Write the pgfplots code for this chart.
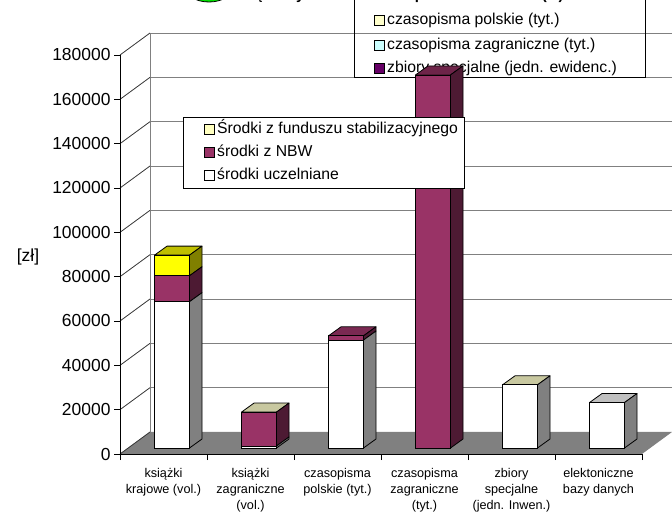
\documentclass[border=0pt]{standalone}
\usepackage{pgfplots}
\usepackage{pgfplotstable}
\pgfplotsset{compat=1.18}
\usepackage{fontspec}
\setmainfont{Liberation Sans}

\definecolor{maroon}{HTML}{993366}
\definecolor{maroonside}{HTML}{4D1A33}
\definecolor{ylw}{HTML}{FFFF00}
\definecolor{ylwside}{HTML}{808000}
\definecolor{ylwpale}{HTML}{FFFFC0}
\definecolor{whiteside}{HTML}{808080}
\definecolor{floorgray}{HTML}{808080}
\definecolor{wallgray}{HTML}{808080}
\definecolor{topA}{HTML}{BFBF00}
\definecolor{topB}{HTML}{C8C8A0}
\definecolor{topC}{HTML}{7A2952}
\definecolor{topD}{HTML}{6E2449}
\definecolor{topE}{HTML}{C8C8A0}
\definecolor{topF}{HTML}{C0C0C0}
\definecolor{lgA}{HTML}{FFFFCC}
\definecolor{lgB}{HTML}{CCFFFF}
\definecolor{lgC}{HTML}{660066}
\definecolor{titlegreen}{HTML}{00E000}

\pgfplotstableread{
x  ucz    nbw    fund   top
1  66000  11700  9300   topA
2  900    15300  0      topB
3  48700  1900   0      topC
4  0      168300 0      topD
5  28500  0      0      topE
6  20500  0      0      topF
}\bardata

\newcommand\sideface[4]{\filldraw[fill=#4,draw=black,line width=0.8bp,line join=round]
  ([xshift=17.5bp]axis cs:#1,#2) -- ([shift={(30bp,9bp)}]axis cs:#1,#2) --
  ([shift={(30bp,9bp)}]axis cs:#1,#3) -- ([xshift=17.5bp]axis cs:#1,#3) -- cycle;}
\newcommand\topface[3]{\filldraw[fill=#3,draw=black,line width=0.8bp,line join=round]
  ([xshift=-17.5bp]axis cs:#1,#2) -- ([xshift=17.5bp]axis cs:#1,#2) --
  ([shift={(30bp,9bp)}]axis cs:#1,#2) -- ([shift={(-5bp,9bp)}]axis cs:#1,#2) -- cycle;}

\begin{document}
\begin{tikzpicture}
% ---------- walls, floor, axes ----------
\begin{axis}[
  at={(120bp,58bp)}, anchor=south west, scale only axis,
  width=522bp, height=399bp,
  xmin=0.5, xmax=6.5, ymin=0, ymax=180000,
  clip=false, axis on top,
  axis x line*=bottom, axis y line*=left,
  axis line style={black, line width=0.8bp},
  tick style={black, line width=0.8bp},
  tick align=outside, major tick length=6bp,
  ytick={0,20000,40000,60000,80000,100000,120000,140000,160000,180000},
  scaled y ticks=false,
  /pgf/number format/fixed,
  /pgf/number format/1000 sep={},
  /pgf/number format/assume math mode=true,
  yticklabel style={font=\fontsize{17.5}{17.5}\selectfont},
  xtick={0.5,1.5,2.5,3.5,4.5,5.5,6.5}, xticklabels={},
  xticklabel style={align=center, font=\fontsize{12.7}{16}\selectfont},
  extra x ticks={1,2,3,4,5,6},
  extra x tick style={major tick length=0pt, xticklabel style={yshift=-11bp}},
  extra x tick labels={{książki\\krajowe (vol.)},{książki\\zagraniczne\\(vol.)},{czasopisma\\polskie (tyt.)},{czasopisma\\zagraniczne\\(tyt.)},{zbiory\\specjalne\\(jedn. Inwen.)},{elektoniczne\\bazy danych}},
]
\fill[floorgray] (axis cs:0.5,0) -- (axis cs:6.5,0) -- ([shift={(30bp,22bp)}]axis cs:6.5,0) -- ([shift={(30bp,22bp)}]axis cs:0.5,0) -- cycle;
\pgfplotsinvokeforeach{20000,40000,60000,80000,100000,120000,140000,160000,180000}{
  \draw[wallgray, line width=0.8bp] ([shift={(30bp,22bp)}]axis cs:0.5,#1) -- ([shift={(30bp,22bp)}]axis cs:6.5,#1);
}
\draw[wallgray, line width=0.8bp] ([shift={(30bp,22bp)}]axis cs:0.5,0) -- ([shift={(30bp,22bp)}]axis cs:0.5,180000);
\pgfplotsinvokeforeach{0,20000,40000,60000,80000,100000,120000,140000,160000,180000}{
  \draw[black!80, line width=0.8bp] (axis cs:0.5,#1) -- ([shift={(30bp,22bp)}]axis cs:0.5,#1);
}
\end{axis}

% ---------- y label, title, top legend ----------
\node[font=\fontsize{17.5}{17.5}\selectfont] at (28bp,255bp) {[zł]};
\filldraw[fill=titlegreen, draw=black, line width=0.8bp] (209bp,525bp) ellipse [x radius=24bp, y radius=15bp];
\node[anchor=base west, font=\bfseries\fontsize{15}{18}\selectfont, inner sep=0pt] at (237bp,512bp) {Część wydatków na zakup zbiorów w 2002 (zł)};
\draw[black, line width=0.8bp] (354bp,520bp) -- (354bp,434.5bp) -- (645bp,434.5bp) -- (645bp,520bp);
\foreach \yy/\cc/\lbl in {492/lgA/czasopisma polskie (tyt.), 467/lgB/czasopisma zagraniczne (tyt.), 443.5/lgC/zbiory specjalne (jedn. ewidenc.)}{
  \filldraw[fill=\cc, draw=black, line width=0.8bp] (374bp,\yy bp-5bp) rectangle (384bp,\yy bp+5bp);
  \node[anchor=west, inner sep=0pt, font=\fontsize{15.8}{18}\selectfont] at (387bp,\yy bp) {\lbl};
}

% ---------- bars ----------
\begin{axis}[
  at={(128.5bp,64bp)}, anchor=south west, scale only axis,
  width=522bp, height=399bp,
  xmin=0.5, xmax=6.5, ymin=0, ymax=180000,
  clip=false, hide axis,
  ybar stacked, bar width=35bp,
  legend image code/.code={\path (0bp,0bp); \draw[#1, draw=black, line width=0.8bp] (15bp,-5bp) rectangle (25bp,5bp);},
  reverse legend, legend cell align=left,
  legend style={at={(0.1044,0.8296)}, anchor=north west, draw=black, line width=0.8bp, fill=white,
    font=\fontsize{15.8}{18}\selectfont, inner xsep=6bp, inner ysep=4bp, row sep=6bp,
    nodes={inner sep=1bp, text height=11.5bp, text depth=3.5bp},
    /tikz/every odd column/.style={column sep=1bp}},
]
\addplot[fill=white, draw=black, line width=0.8bp] table[x=x, y=ucz] {\bardata};
\addplot[fill=maroon, draw=black, line width=0.8bp] table[x=x, y=nbw] {\bardata};
\addplot[fill=ylw, draw=black, line width=0.8bp, legend image post style={fill=ylwpale}] table[x=x, y=fund] {\bardata};
\legend{środki uczelniane, środki z NBW, Środki z funduszu stabilizacyjnego}
\pgfplotsinvokeforeach{0,1,2,3,4,5}{
  \pgfplotstablegetelem{#1}{x}\of\bardata \edef\bx{\pgfplotsretval}
  \pgfplotstablegetelem{#1}{ucz}\of\bardata \edef\va{\pgfplotsretval}
  \pgfplotstablegetelem{#1}{nbw}\of\bardata \edef\vb{\pgfplotsretval}
  \pgfplotstablegetelem{#1}{fund}\of\bardata \edef\vc{\pgfplotsretval}
  \pgfplotstablegetelem{#1}{top}\of\bardata \edef\tc{\pgfplotsretval}
  \edef\ya{\the\numexpr\va\relax}
  \edef\yb{\the\numexpr\va+\vb\relax}
  \edef\yc{\the\numexpr\va+\vb+\vc\relax}
  \ifnum\va>0 \edef\tmp{\noexpand\sideface{\bx}{0}{\ya}{whiteside}}\tmp\fi
  \ifnum\vb>0 \edef\tmp{\noexpand\sideface{\bx}{\ya}{\yb}{maroonside}}\tmp\fi
  \ifnum\vc>0 \edef\tmp{\noexpand\sideface{\bx}{\yb}{\yc}{ylwside}}\tmp\fi
  \edef\tmp{\noexpand\topface{\bx}{\yc}{\tc}}\tmp
}
\end{axis}
\pgfresetboundingbox
\useasboundingbox (0,0) rectangle (672bp,512bp);
\end{tikzpicture}
\end{document}
